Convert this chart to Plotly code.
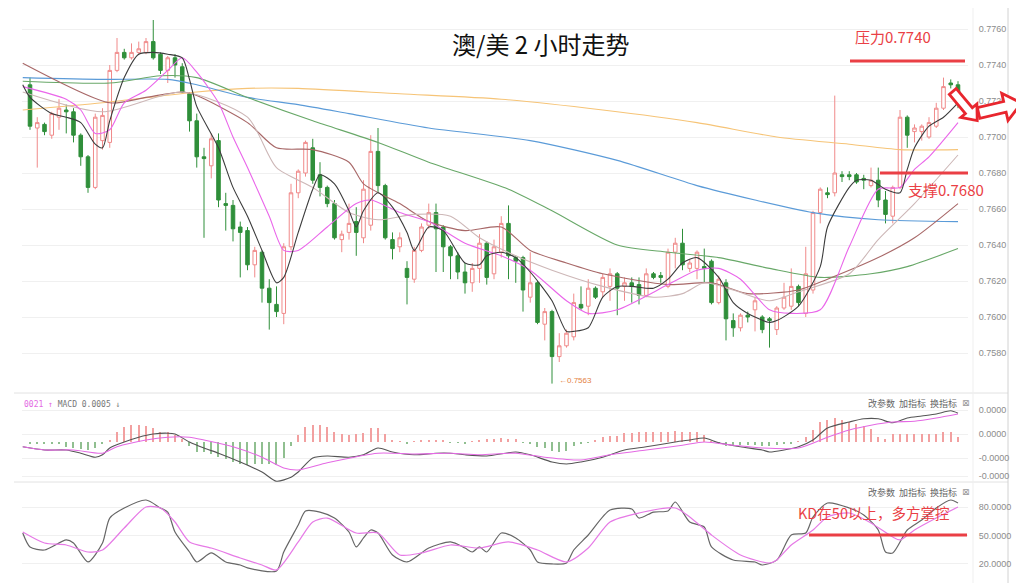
import math
import plotly.graph_objects as go

# ---------------- data ----------------
open_ = [
0.7729,0.7705,0.7707,0.7701,0.7711,0.7715,0.7714,0.7701,0.7689,0.7672,
0.7698,0.7697,0.7737,0.7747,0.7744,0.7747,0.7747,0.7753,0.7746,0.7737,
0.7744,0.7739,0.7724,0.7709,0.7689,0.7684,0.7698,0.7663,0.7662,0.7650,
0.7648,0.7629,0.7636,0.7616,0.7607,0.7602,0.7639,0.7669,0.7680,0.7694,
0.7679,0.7672,0.7663,0.7643,0.7647,0.7653,0.7644,0.7651,0.7692,0.7673,
0.7643,0.7639,0.7627,0.7621,0.7637,0.7651,0.7658,0.7650,0.7639,0.7634,
0.7625,0.7619,0.7627,0.7641,0.7624,0.7636,0.7652,0.7633,0.7633,0.7611,
0.7619,0.7596,0.7603,0.7578,0.7584,0.7589,0.7607,0.7606,0.7616,0.7614,
0.7617,0.7624,0.7617,0.7619,0.7618,0.7612,0.7624,0.7623,0.7617,0.7636,
0.7641,0.7627,0.7627,0.7628,0.7631,0.7608,0.7619,0.7598,0.7594,0.7601,
0.7604,0.7600,0.7599,0.7593,0.7605,0.7606,0.7617,0.7602,0.7615,0.7658,
0.7669,0.7669,0.7679,0.7679,0.7679,0.7677,0.7673,0.7676,0.7665,0.7656,
0.7672,0.7711,0.7703,0.7703,0.7700,0.7706,0.7716,0.7730,0.7729]
high = [
0.7733,0.7711,0.7708,0.7714,0.7721,0.7718,0.7716,0.7702,0.7690,0.7713,
0.7716,0.7740,0.7755,0.7749,0.7752,0.7753,0.7755,0.7765,0.7747,0.7745,
0.7746,0.7741,0.7725,0.7713,0.7694,0.7702,0.7702,0.7669,0.7665,0.7653,
0.7650,0.7639,0.7637,0.7621,0.7617,0.7641,0.7674,0.7682,0.7698,0.7699,
0.7686,0.7673,0.7665,0.7648,0.7663,0.7661,0.7676,0.7701,0.7705,0.7674,
0.7647,0.7647,0.7631,0.7639,0.7652,0.7663,0.7663,0.7651,0.7640,0.7636,
0.7630,0.7630,0.7646,0.7642,0.7643,0.7656,0.7662,0.7634,0.7634,0.7636,
0.7620,0.7605,0.7604,0.7591,0.7593,0.7613,0.7617,0.7621,0.7617,0.7624,
0.7627,0.7625,0.7622,0.7622,0.7622,0.7627,0.7625,0.7625,0.7638,0.7644,
0.7649,0.7632,0.7637,0.7638,0.7632,0.7623,0.7621,0.7602,0.7602,0.7603,
0.7611,0.7601,0.7600,0.7606,0.7619,0.7627,0.7618,0.7639,0.7659,0.7672,
0.7672,0.7723,0.7681,0.7681,0.7680,0.7679,0.7683,0.7683,0.7670,0.7673,
0.7715,0.7712,0.7707,0.7707,0.7711,0.7719,0.7733,0.7732,0.7731]
low = [
0.7704,0.7683,0.7701,0.7699,0.7704,0.7702,0.7697,0.7684,0.7669,0.7671,
0.7693,0.7694,0.7736,0.7743,0.7743,0.7746,0.7746,0.7743,0.7735,0.7730,
0.7733,0.7724,0.7703,0.7683,0.7644,0.7677,0.7661,0.7648,0.7642,0.7622,
0.7626,0.7622,0.7608,0.7593,0.7600,0.7596,0.7637,0.7666,0.7678,0.7674,
0.7667,0.7661,0.7643,0.7636,0.7643,0.7634,0.7641,0.7648,0.7669,0.7643,
0.7632,0.7636,0.7607,0.7619,0.7636,0.7649,0.7625,0.7625,0.7621,0.7621,
0.7613,0.7614,0.7619,0.7618,0.7621,0.7633,0.7621,0.7619,0.7603,0.7608,
0.7596,0.7587,0.7563,0.7575,0.7583,0.7587,0.7604,0.7601,0.7610,0.7611,
0.7609,0.7601,0.7609,0.7608,0.7607,0.7611,0.7621,0.7619,0.7616,0.7627,
0.7626,0.7625,0.7621,0.7619,0.7607,0.7607,0.7587,0.7589,0.7592,0.7597,
0.7592,0.7591,0.7583,0.7590,0.7604,0.7604,0.7606,0.7600,0.7613,0.7652,
0.7666,0.7667,0.7675,0.7676,0.7674,0.7671,0.7672,0.7661,0.7652,0.7652,
0.7671,0.7694,0.7697,0.7698,0.7699,0.7705,0.7715,0.7727,0.7716]
close = [
0.7706,0.7708,0.7703,0.7713,0.7716,0.7714,0.7701,0.7689,0.7672,0.7711,
0.7712,0.7737,0.7747,0.7744,0.7747,0.7749,0.7753,0.7744,0.7737,0.7744,
0.7740,0.7725,0.7709,0.7689,0.7688,0.7699,0.7665,0.7662,0.7649,0.7647,
0.7629,0.7637,0.7616,0.7608,0.7603,0.7639,0.7669,0.7681,0.7697,0.7676,
0.7672,0.7663,0.7644,0.7646,0.7652,0.7647,0.7671,0.7692,0.7673,0.7644,
0.7638,0.7644,0.7622,0.7637,0.7650,0.7658,0.7649,0.7639,0.7634,0.7625,
0.7619,0.7627,0.7641,0.7622,0.7639,0.7652,0.7634,0.7631,0.7615,0.7619,
0.7597,0.7603,0.7578,0.7584,0.7591,0.7608,0.7605,0.7616,0.7611,0.7622,
0.7624,0.7616,0.7619,0.7617,0.7612,0.7624,0.7622,0.7622,0.7636,0.7641,
0.7629,0.7630,0.7636,0.7627,0.7608,0.7621,0.7599,0.7594,0.7601,0.7600,
0.7609,0.7593,0.7598,0.7605,0.7611,0.7617,0.7608,0.7624,0.7658,0.7671,
0.7668,0.7680,0.7678,0.7678,0.7675,0.7676,0.7676,0.7665,0.7657,0.7672,
0.7711,0.7701,0.7705,0.7706,0.7708,0.7716,0.7728,0.7729,0.7718]
bars = list(range(len(open_)))

# moving averages: (bar index, value)
ma5_x = [-1,0,3,5,7,9,10,11,13,15,17,19,21,22,23,26,28,30,32,34,35,37,39,40,42,44,45,46,48,50,52,53,55,57,60,62,63,65,67,69,72,74,75,77,79,81,83,86,88,90,92,95,97,99,102,103,106,109,110,113,114,116,118,120,121,122,124,126,128]
ma5_y = [0.7729,0.7722,0.7713,0.7711,0.7708,0.7696,0.7694,0.7709,0.7733,0.7746,0.7747,0.7746,0.7744,0.7732,0.7717,0.7694,0.7672,0.7656,0.7637,0.7619,0.7622,0.7647,0.7671,0.7679,0.7674,0.7659,0.7650,0.7659,0.7669,0.7661,0.7647,0.7637,0.7650,0.7648,0.7630,0.7629,0.7634,0.7636,0.7633,0.7625,0.7609,0.7592,0.7592,0.7594,0.7611,0.7617,0.7617,0.7616,0.7621,0.7630,0.7633,0.7622,0.7608,0.7602,0.7597,0.7598,0.7606,0.7628,0.7650,0.7672,0.7676,0.7676,0.7671,0.7669,0.7682,0.7694,0.7706,0.7711,0.7719]
ma10_x = [-1,5,7,9,11,13,16,19,21,23,26,28,30,33,35,37,41,45,47,51,55,60,65,69,74,77,81,88,92,95,98,102,105,109,113,117,120,122,124,128]
ma10_y = [0.7728,0.7721,0.7715,0.7702,0.7704,0.7719,0.7726,0.7737,0.7744,0.7736,0.7719,0.7700,0.7683,0.7656,0.7637,0.7637,0.7650,0.7663,0.7665,0.7658,0.7653,0.7641,0.7634,0.7626,0.7609,0.7602,0.7604,0.7618,0.7626,0.7627,0.7621,0.7604,0.7602,0.7604,0.7639,0.7671,0.7672,0.7682,0.7689,0.7708]
ma20_x = [-1,10,21,30,34,39,44,48,53,58,62,67,72,79,86,90,93,97,102,106,113,117,122,128]
ma20_y = [0.7725,0.7714,0.7725,0.7711,0.7683,0.7672,0.7658,0.7654,0.7657,0.7656,0.7644,0.7634,0.7626,0.7617,0.7611,0.7613,0.7619,0.7615,0.7609,0.7614,0.7624,0.7643,0.7663,0.7690]
ma30_x = [-1,11,16,21,23,30,34,39,44,46,51,55,60,65,69,74,79,88,94,99,106,110,117,122,128]
ma30_y = [0.7741,0.7719,0.7722,0.7725,0.7723,0.7708,0.7694,0.7693,0.7686,0.7674,0.7663,0.7653,0.7648,0.7650,0.7637,0.7630,0.7624,0.7618,0.7619,0.7613,0.7615,0.7621,0.7633,0.7644,0.7663]
ma60_x = [-1,11,18,23,30,39,48,55,66,72,81,88,95,102,109,116,121,128]
ma60_y = [0.7731,0.7730,0.7734,0.7733,0.7722,0.7709,0.7697,0.7686,0.7671,0.7659,0.7640,0.7636,0.7633,0.7627,0.7622,0.7624,0.7628,0.7638]
ma120_x = [-1,10,19,23,30,37,44,55,69,81,92,100,108,117,128]
ma120_y = [0.7733,0.7732,0.7732,0.7729,0.7722,0.7718,0.7713,0.7705,0.7698,0.7687,0.7673,0.7665,0.7658,0.7654,0.7653]
ma250_x = [-1,10,23,30,37,51,65,79,92,103,113,120,128]
ma250_y = [0.7715,0.7719,0.7725,0.7727,0.7727,0.7724,0.7721,0.7715,0.7708,0.7700,0.7696,0.7693,0.7693]

# MACD (units of 1e-5)
macd_hist = [
-0.2,-0.2,-0.2,-0.2,-0.3,-0.6,-0.8,-0.9,-1.0,-0.8,
-0.3,0.3,1.2,1.9,2.1,2.1,2.0,1.7,1.3,1.2,
0.9,0.4,-0.5,-1.2,-1.3,-1.5,-1.9,-2.1,-2.5,-2.8,
-2.9,-2.8,-2.7,-2.8,-2.9,-2.0,-0.5,0.9,1.9,2.1,
2.1,1.9,1.25,1.0,0.9,1.0,1.1,1.7,1.7,1.0,
0.3,0.1,-0.2,0.1,0.3,0.3,0.2,0.3,-0.1,-0.1,
-0.2,0.1,0.2,0.4,0.4,0.5,0.4,0.4,-0.1,-0.2,
-0.6,-0.7,-1.1,-1.2,-1.1,-0.5,-0.2,-0.1,0.2,0.6,
0.8,0.8,1.1,1.1,1.2,1.2,1.2,1.3,1.3,1.4,
1.3,1.2,1.2,0.9,0.1,-0.3,-0.5,-0.5,-0.4,-0.4,
-0.4,-0.5,-0.5,-0.4,-0.3,-0.2,0.1,0.6,1.5,2.5,
2.7,3.0,2.7,2.5,2.2,2.0,1.6,0.6,0.4,1.0,
1.0,1.0,1.0,1.0,1.0,1.0,1.2,1.2,0.6]
dif_x = [-1,2,5,7,9,10,11,13,15,17,19,20,22,24,26,29,32,34,36,37,39,41,44,46,48,50,53,56,58,60,63,67,69,72,74,76,79,82,85,89,91,93,95,98,101,102,104,106,108,110,113,115,117,119,121,123,125,127,128]
dif_y = [-0.6,-1.0,-1.0,-1.4,-1.9,-1.6,-0.75,0.0,0.6,1.0,1.1,1.0,0.0,-0.75,-1.4,-2.5,-3.75,-4.9,-4.4,-3.75,-2.0,-1.75,-1.9,-1.6,-0.75,-1.25,-1.6,-1.4,-1.4,-1.6,-1.75,-1.25,-1.6,-2.5,-2.75,-2.5,-1.9,-1.0,-0.6,0.0,0.25,0.5,-0.1,-0.6,-1.0,-1.25,-1.0,-0.6,0.25,1.75,2.5,2.9,2.9,2.4,3.0,3.25,3.5,3.9,3.6]
dea_x = [-1,2,6,10,12,16,19,22,24,28,32,35,37,41,48,53,58,62,67,71,76,80,85,90,93,97,101,106,110,113,116,119,122,125,128]
dea_y = [-0.6,-1.0,-1.0,-1.4,-0.6,0.25,0.6,0.6,0.25,-0.6,-1.9,-3.25,-3.5,-2.6,-1.4,-1.5,-1.4,-1.6,-1.4,-1.9,-2.25,-1.6,-1.0,-0.4,0.0,-0.4,-0.75,-0.75,0.6,1.5,2.1,2.5,2.6,3.0,3.5]

# KD
k_x = [-1,0,2,5,6,8,10,11,13,16,18,19,20,22,23,25,27,29,30,34,35,37,38,40,42,44,45,46,47,48,50,52,55,58,60,61,62,63,65,67,69,70,72,74,75,77,80,83,84,86,88,89,91,93,94,97,100,101,103,105,107,108,110,113,115,117,118,119,121,123,125,127,128]
k_y = [52.6,37.9,34.7,45.3,42.1,22.1,42.1,68.4,78.9,87.4,78.9,74.7,53.7,32.6,22.1,31.6,22.1,18.9,15.8,12.6,32.6,61.1,75.8,74.7,68.4,53.7,37.9,47.4,55.8,52.6,29.5,22.1,36.8,43.2,36.8,32.6,37.9,32.6,52.6,47.4,34.7,22.1,20.0,21.0,34.7,50.5,76.8,77.9,68.4,74.7,75.8,85.3,64.2,59.0,37.9,24.2,22.1,18.9,24.0,50.5,52.6,69.5,84.2,79.0,71.6,55.8,32.6,31.6,55.8,66.3,79.0,87.4,84.2]
d_x = [-1,2,5,8,10,13,16,18,20,22,25,29,32,34,37,39,41,45,48,51,54,58,62,66,70,74,77,80,84,89,91,94,98,102,103,105,108,110,113,116,119,120,122,125,128]
d_y = [53.7,42.1,40.0,32.6,34.7,57.9,80.0,78.9,64.2,43.2,36.8,26.3,18.9,13.7,43.2,64.2,68.4,52.6,52.6,29.5,31.6,40.0,36.8,43.2,34.7,22.1,36.8,64.2,73.7,79.0,69.5,50.5,29.5,21.0,24.2,40.0,55.8,69.5,73.7,63.2,48.4,45.3,55.8,68.4,80.0]

price_ticks = [0.7580, 0.7600, 0.7620, 0.7640, 0.7660, 0.7680, 0.7700, 0.7720, 0.7740, 0.7760]
price_ticktext = ["0.7580", "0.7600", "0.7620", "0.7640", "0.7660", "0.7680", "0.7700", "0.7720", "0.7740", "0.7760"]
macd_ticks = [4, 1, -2, -4.25]
macd_ticktext = ["0.0000", "0.0000", "-0.0000", "-0.0000"]
kd_ticks = [80, 50, 20]
kd_ticktext = ["80.0000", "50.0000", "20.0000"]

# ---------------- layout geometry (page pixels) ----------------
PAGE_W, PAGE_H = 1024, 583
OFF = 8                      # default body margin of the html page
W, H = PAGE_W - OFF, PAGE_H - OFF
def fx(p): return (p - OFF) / W
def fy(p): return 1 - (p - OFF) / H

X_L, X_R = 22, 968
BAR0, STEP = 30, 7.25
x_range = [(X_L - BAR0) / STEP, (X_R - BAR0) / STEP]
P_REF_PX, P_REF, PX_PER = 29, 0.7760, 18000.0
main_top, main_bot = 15, 390
y_main = [P_REF - (main_bot - P_REF_PX) / PX_PER, P_REF + (P_REF_PX - main_top) / PX_PER]

RED = "#ea3f45"
TXT = "#8c8c8c"

fig = go.Figure()
fig.add_trace(go.Candlestick(
    x=bars, open=open_, high=high, low=low, close=close,
    increasing=dict(line=dict(color="#f08a8a", width=1), fillcolor="#ffffff"),
    decreasing=dict(line=dict(color="#2f8f3a", width=1), fillcolor="#2f8f3a"),
    whiskerwidth=0, xaxis="x", yaxis="y", showlegend=False))

def line(xs, ys, color, xa="x", ya="y", w=1.1):
    fig.add_trace(go.Scatter(x=xs, y=ys, mode="lines", xaxis=xa, yaxis=ya,
                             line=dict(color=color, width=w, shape="spline", smoothing=0.7),
                             showlegend=False, hoverinfo="skip"))

line(ma250_x, ma250_y, "#f6c477")
line(ma120_x, ma120_y, "#5b9bd8")
line(ma60_x, ma60_y, "#68a868")
line(ma30_x, ma30_y, "#a86868")
line(ma20_x, ma20_y, "#cdb7b7")
line(ma10_x, ma10_y, "#ea66ea")
line(ma5_x, ma5_y, "#3c3c3c")

fig.add_trace(go.Bar(x=bars, y=macd_hist, xaxis="x2", yaxis="y2", width=0.2,
                     marker=dict(color=["#f2a0a0" if v >= 0 else "#90bf90" for v in macd_hist], line=dict(width=0)),
                     showlegend=False, hoverinfo="skip"))
line(dif_x, dif_y, "#555555", "x2", "y2")
line(dea_x, dea_y, "#e46ae4", "x2", "y2")
line(k_x, k_y, "#666666", "x3", "y3", 1.2)
line(d_x, d_y, "#e67ae6", "x3", "y3", 1.2)

tickfont = dict(size=9, color=TXT, family="Liberation Sans")
def yax(domain, rng, tv, tt):
    return dict(domain=domain, range=rng, side="right", tickvals=tv, ticktext=tt,
                gridcolor="#f0f0f0", zeroline=False, showline=False, ticks="outside",
                ticklen=8, tickcolor="rgba(0,0,0,0)", tickfont=tickfont, fixedrange=True)
def xax(anchor):
    return dict(domain=[fx(X_L), fx(X_R)], range=x_range, visible=False, anchor=anchor,
                rangeslider=dict(visible=False), fixedrange=True)

fig.update_layout(
    width=W, height=H, margin=dict(l=0, r=0, t=0, b=0),
    paper_bgcolor="white", plot_bgcolor="white", showlegend=False,
    xaxis=xax("y"), xaxis2=xax("y2"), xaxis3=xax("y3"),
    yaxis=yax([fy(main_bot), fy(main_top)], y_main, price_ticks, price_ticktext),
    yaxis2=yax([fy(483), fy(395)], [-5.125, 5.875], macd_ticks, macd_ticktext),
    yaxis3=yax([fy(580), fy(485)], [3.1, 103.2], kd_ticks, kd_ticktext),
    bargap=0,
)

shapes = []
def pline(x0, y0, x1, y1, color, w, layer="above"):
    shapes.append(dict(type="line", xref="paper", yref="paper", x0=fx(x0), y0=fy(y0),
                       x1=fx(x1), y1=fy(y1), line=dict(color=color, width=w), layer=layer))
# frame / separators
pline(14, 393, 1008, 393, "#e2e2e2", 1, "below")
pline(14, 482, 1008, 482, "#e2e2e2", 1, "below")
pline(973, 8, 973, 583, "#efefef", 1, "below")
pline(1008, 8, 1008, 583, "#d2d2d2", 1, "below")
# red marker lines
pline(850, 61, 965, 61, RED, 3)
pline(880, 173, 968, 173, RED, 3)
pline(809, 535, 967, 535, RED, 3)

def arrow(cx, cy, length, shaft, head, head_len, ang):
    a = math.radians(ang)
    half = length / 2
    pts = [(-half, -shaft), (half - head_len, -shaft), (half - head_len, -head), (half, 0),
           (half - head_len, head), (half - head_len, shaft), (-half, shaft)]
    out = []
    for (u, v) in pts:
        px = cx + u * math.cos(a) - v * math.sin(a)
        py = cy + u * math.sin(a) + v * math.cos(a)
        out.append((fx(px), fy(py)))
    path = "M " + " L ".join(f"{p[0]:.5f},{p[1]:.5f}" for p in out) + " Z"
    shapes.append(dict(type="path", xref="paper", yref="paper", path=path,
                       line=dict(color="#e8262e", width=2.8), fillcolor="white", layer="above"))
arrow(965, 106, 38, 4.5, 10.5, 13, 50)
arrow(1000, 108, 44, 5.5, 14, 17, -13)
fig.update_layout(shapes=shapes)

ann = []
def text(x, y, s, size, color, xanchor="center", family="Noto Sans CJK SC"):
    ann.append(dict(xref="paper", yref="paper", x=fx(x), y=fy(y), text=s, showarrow=False,
                    xanchor=xanchor, yanchor="middle", font=dict(size=size, color=color, family=family)))
text(540, 44, "澳/美 2 小时走势", 24, "#111111")
text(893, 37, "压力0.7740", 15, RED)
text(946, 189, "支撑0.7680", 15, RED)
text(873, 512, "KD在50以上，多方掌控", 14.5, RED)
text(22, 404, '<span style="color:#e36ae3">0021 ↑</span> MACD 0.0005 ↓', 8, "#777777", "left", "DejaVu Sans Mono")
for yy in (403, 492):
    text(912, yy, "改参数  加指标  换指标", 9, "#666666")
    text(966, yy, "⊠", 9, "#999999", "center", "DejaVu Sans")
text(557, 380, "←0.7563", 8, "#e4823f", "left", "Liberation Sans")
fig.update_layout(annotations=ann)

fig.write_html("out.html")
